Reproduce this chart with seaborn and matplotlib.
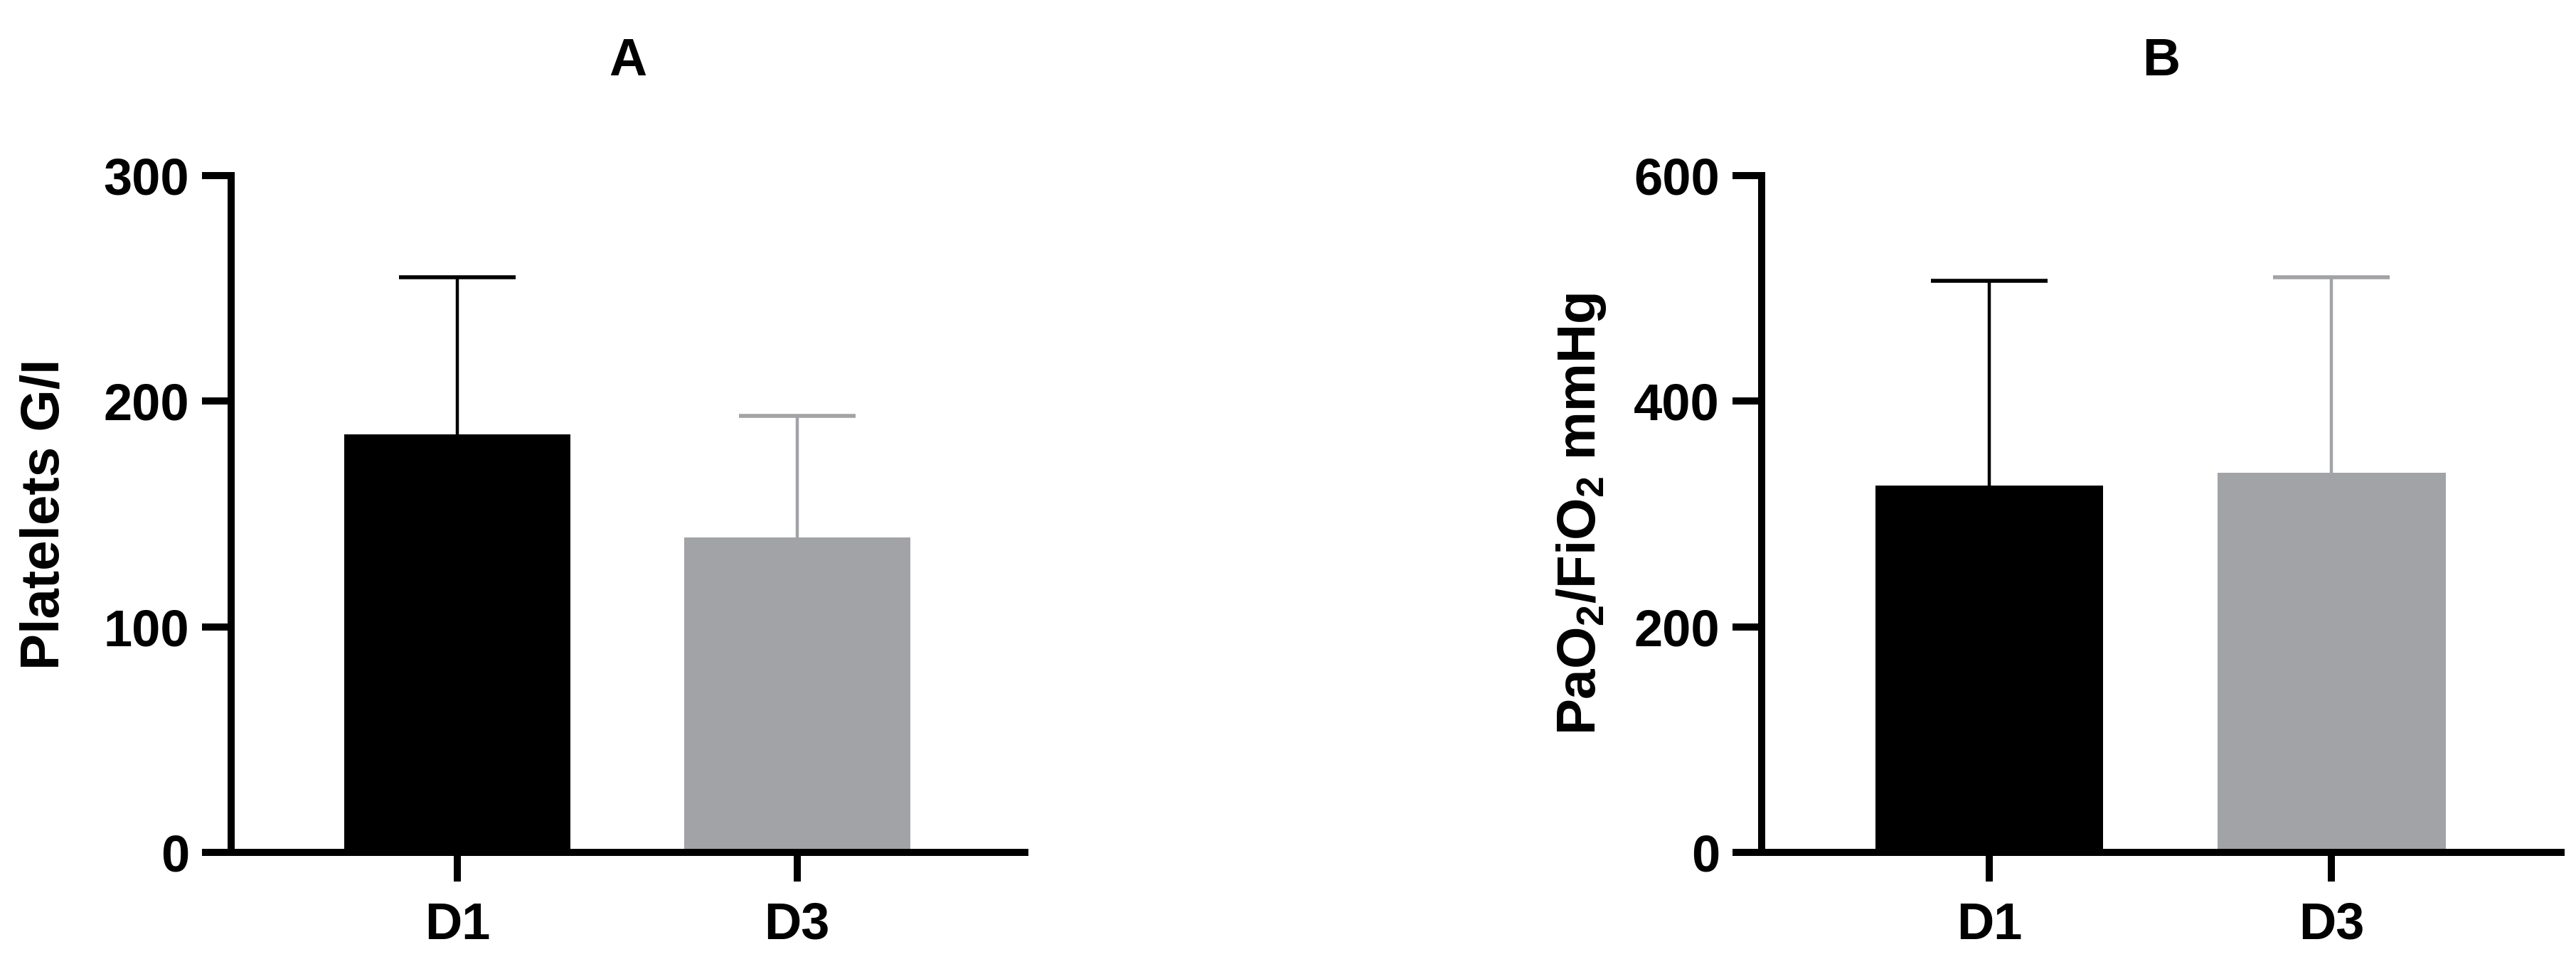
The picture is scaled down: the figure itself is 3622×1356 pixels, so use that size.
import numpy as np
import pandas as pd
import matplotlib
matplotlib.use('Agg')
import matplotlib.pyplot as plt
import seaborn as sns

# values (mean and upper SD per day)
days = ['D1', 'D3']
bar_colors = ['#000000', '#A2A3A7']

platelets_mean = [185.3, 139.6]
platelets_sd = [69.7, 53.9]
platelets_ticks = [0, 100, 200, 300]

pf_mean = [325.2, 336.5]
pf_sd = [181.5, 173.4]
pf_ticks = [0, 200, 400, 600]

sns.set_theme(style='ticks')
plt.rcParams['font.family'] = ['Liberation Sans', 'DejaVu Sans']
plt.rcParams['font.weight'] = 'bold'
plt.rcParams['axes.labelweight'] = 'bold'
plt.rcParams['axes.titleweight'] = 'bold'
plt.rcParams['text.color'] = 'black'
plt.rcParams['axes.labelcolor'] = 'black'
plt.rcParams['mathtext.default'] = 'regular'

W, H = 3623, 1356
fig = plt.figure(figsize=(W / 100, H / 100), dpi=100)
ax_a = fig.add_axes([325 / W, 157 / H, 1116 / W, 952 / H])
ax_b = fig.add_axes([2477 / W, 157 / H, 1124 / W, 952 / H])


def draw_panel(ax, means, sds, ticks, ylabel, title, labelpad):
    df = pd.DataFrame({'day': days, 'value': means})
    sns.barplot(data=df, x='day', y='value', hue='day', palette=bar_colors,
                width=0.665, saturation=1, legend=False, linewidth=0, ax=ax)
    # upper error bars only
    for i in range(len(days)):
        eb = ax.errorbar(i, means[i], yerr=[[0], [sds[i]]], fmt='none',
                         ecolor=bar_colors[i], elinewidth=3.2, capsize=59,
                         capthick=4, zorder=3)
        for cap in eb[1]:
            if np.allclose(cap.get_ydata(), means[i]):
                cap.set_visible(False)

    ax.set_xlim(-0.665, 1.67)
    ax.set_ylim(ticks[0], ticks[-1])
    ax.set_yticks(ticks)
    ax.set_xlabel('')
    ax.set_ylabel(ylabel, fontsize=55, labelpad=labelpad, color='black')
    ax.set_title(title, fontsize=53, pad=101.5, color='black')

    sns.despine(ax=ax)
    for side in ['left', 'bottom']:
        ax.spines[side].set_linewidth(7.2)
        ax.spines[side].set_color('black')
    ax.tick_params(axis='both', length=29.5, width=7.2, color='black',
                   labelsize=52, labelcolor='black')
    ax.tick_params(axis='y', pad=13)
    ax.tick_params(axis='x', pad=20)


draw_panel(ax_a, platelets_mean, platelets_sd, platelets_ticks,
           'Platelets G/I', 'A', 34)
draw_panel(ax_b, pf_mean, pf_sd, pf_ticks,
           'PaO$_2$/FiO$_2$ mmHg', 'B', 26)

fig.savefig('out.png', dpi=100)
